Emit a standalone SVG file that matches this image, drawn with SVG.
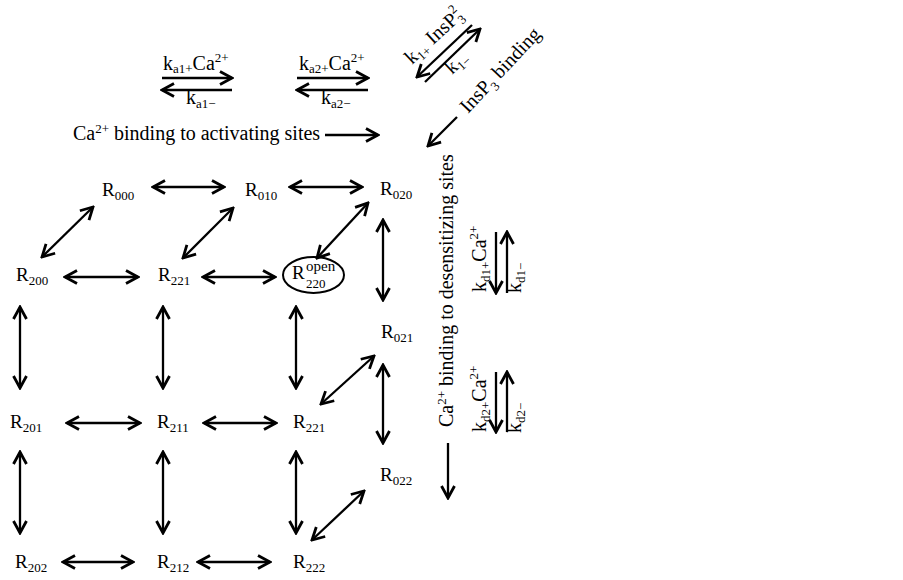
<svg xmlns="http://www.w3.org/2000/svg" width="903" height="580" viewBox="0 0 903 580">
<defs>
<marker id="ah" viewBox="-14 -9 16 18" refX="0" refY="0" markerWidth="16" markerHeight="18" markerUnits="userSpaceOnUse" orient="auto-start-reverse">
<path d="M-12,-6.5 L0,0 L-12,6.5" fill="none" stroke="#000" stroke-width="2.8" stroke-linejoin="miter"/>
</marker>
<style>
text{font-family:"Liberation Serif","Times New Roman",serif;font-size:20px;fill:#000}
.n{font-size:19px}
.sub{font-size:13px}
.sup{font-size:13px}
.dbl{stroke:#000;stroke-width:2.3;fill:none;marker-start:url(#ah);marker-end:url(#ah)}
.one{stroke:#000;stroke-width:2.3;fill:none;marker-end:url(#ah)}
</style>
</defs>
<rect width="903" height="580" fill="#fff"/>

<g id="labels">
<text x="163" y="70">k<tspan class="sub" dy="3">a1+</tspan><tspan dy="-3">Ca</tspan><tspan class="sup" dy="-8">2+</tspan></text>
<text x="186" y="104">k<tspan class="sub" dy="4">a1−</tspan></text>
<text x="299" y="70">k<tspan class="sub" dy="3">a2+</tspan><tspan dy="-3">Ca</tspan><tspan class="sup" dy="-8">2+</tspan></text>
<text x="321" y="104">k<tspan class="sub" dy="4">a2−</tspan></text>
<text x="73" y="140">Ca<tspan class="sup" dy="-7">2+</tspan><tspan dy="7"> binding to activating sites</tspan></text>
<text transform="translate(412,65) rotate(-43)">k<tspan class="sub" dy="4">1+</tspan><tspan dy="-4"> InsP</tspan><tspan class="sub" dy="5">3</tspan><tspan class="sup" dx="-6.5" dy="-14">2</tspan></text>
<text transform="translate(452,75) rotate(-43)">k<tspan class="sub" dy="4">1−</tspan></text>
<text transform="translate(468,114) rotate(-47)">InsP<tspan class="sub" dy="5">3</tspan><tspan dy="-5"> binding</tspan></text>
<text transform="translate(453,427) rotate(-90)">Ca<tspan class="sup" dy="-7">2+</tspan><tspan dy="7"> binding to desensitizing sites</tspan></text>
<text transform="translate(486,292) rotate(-90)">k<tspan class="sub" dy="4">d1+</tspan><tspan dy="-4">Ca</tspan><tspan class="sup" dy="-8">2+</tspan></text>
<text transform="translate(521,293) rotate(-90)">k<tspan class="sub" dy="4">d1−</tspan></text>
<text transform="translate(486,432) rotate(-90)">k<tspan class="sub" dy="4">d2+</tspan><tspan dy="-4">Ca</tspan><tspan class="sup" dy="-8">2+</tspan></text>
<text transform="translate(521,433) rotate(-90)">k<tspan class="sub" dy="4">d2−</tspan></text>
</g>

<g id="R000"><text class="n" x="102" y="196">R<tspan class="sub" dy="4">000</tspan></text></g>
<g id="R010"><text class="n" x="245" y="196">R<tspan class="sub" dy="4">010</tspan></text></g>
<g id="R020"><text class="n" x="380" y="195">R<tspan class="sub" dy="4">020</tspan></text></g>
<g id="R200"><text class="n" x="16" y="281">R<tspan class="sub" dy="4">200</tspan></text></g>
<g id="R221a"><text class="n" x="158" y="281">R<tspan class="sub" dy="4">221</tspan></text></g>
<g id="R220">
<ellipse cx="313.5" cy="275" rx="30.5" ry="18" fill="none" stroke="#000" stroke-width="2"/>
<text class="n" x="292" y="279">R<tspan x="306" y="271" font-size="15">open</tspan><tspan class="sub" x="306" y="288">220</tspan></text>
</g>
<g id="R021"><text class="n" x="381" y="338">R<tspan class="sub" dy="4">021</tspan></text></g>
<g id="R201"><text class="n" x="10" y="428">R<tspan class="sub" dy="4">201</tspan></text></g>
<g id="R211"><text class="n" x="157" y="428">R<tspan class="sub" dy="4">211</tspan></text></g>
<g id="R221b"><text class="n" x="293" y="428">R<tspan class="sub" dy="4">221</tspan></text></g>
<g id="R022"><text class="n" x="380" y="481">R<tspan class="sub" dy="4">022</tspan></text></g>
<g id="R202"><text class="n" x="15" y="568">R<tspan class="sub" dy="4">202</tspan></text></g>
<g id="R212"><text class="n" x="157" y="568">R<tspan class="sub" dy="4">212</tspan></text></g>
<g id="R222"><text class="n" x="293" y="568">R<tspan class="sub" dy="4">222</tspan></text></g>

<g id="connectors">
<line class="one" x1="162" y1="78" x2="232" y2="78"/>
<line class="one" x1="232" y1="90" x2="162" y2="90"/>
<line class="one" x1="297" y1="78" x2="368" y2="78"/>
<line class="one" x1="368" y1="90" x2="297" y2="90"/>
<line class="one" x1="325" y1="135" x2="378" y2="135"/>
<line class="one" x1="472" y1="25" x2="417" y2="77"/>
<line class="one" x1="425" y1="82" x2="480" y2="29"/>
<line class="one" x1="457" y1="117" x2="428" y2="146"/>
<line class="one" x1="448" y1="443" x2="448" y2="498"/>
<line class="one" x1="496" y1="232" x2="496" y2="293"/>
<line class="one" x1="507" y1="293" x2="507" y2="232"/>
<line class="one" x1="496" y1="372" x2="496" y2="432"/>
<line class="one" x1="507" y1="432" x2="507" y2="372"/>

<line class="dbl" x1="153" y1="187" x2="224" y2="187"/>
<line class="dbl" x1="290" y1="187" x2="362" y2="187"/>
<line class="dbl" x1="65" y1="277" x2="138" y2="277"/>
<line class="dbl" x1="203" y1="277" x2="275" y2="277"/>
<line class="dbl" x1="67" y1="423" x2="140" y2="423"/>
<line class="dbl" x1="204" y1="423" x2="276" y2="423"/>
<line class="dbl" x1="63" y1="562" x2="133" y2="562"/>
<line class="dbl" x1="198" y1="562" x2="270" y2="562"/>

<line class="dbl" x1="93" y1="207" x2="42" y2="257"/>
<line class="dbl" x1="233" y1="208" x2="183" y2="258"/>
<line class="dbl" x1="368" y1="203" x2="317" y2="258"/>
<line class="dbl" x1="374" y1="356" x2="321" y2="404"/>
<line class="dbl" x1="364" y1="491" x2="312" y2="540"/>

<line class="dbl" x1="383" y1="220" x2="383" y2="300"/>
<line class="dbl" x1="383" y1="365" x2="383" y2="443"/>
<line class="dbl" x1="20" y1="307" x2="20" y2="388"/>
<line class="dbl" x1="20" y1="452" x2="20" y2="533"/>
<line class="dbl" x1="163" y1="307" x2="163" y2="388"/>
<line class="dbl" x1="163" y1="452" x2="163" y2="533"/>
<line class="dbl" x1="296" y1="307" x2="296" y2="388"/>
<line class="dbl" x1="296" y1="452" x2="296" y2="533"/>
</g>
</svg>
